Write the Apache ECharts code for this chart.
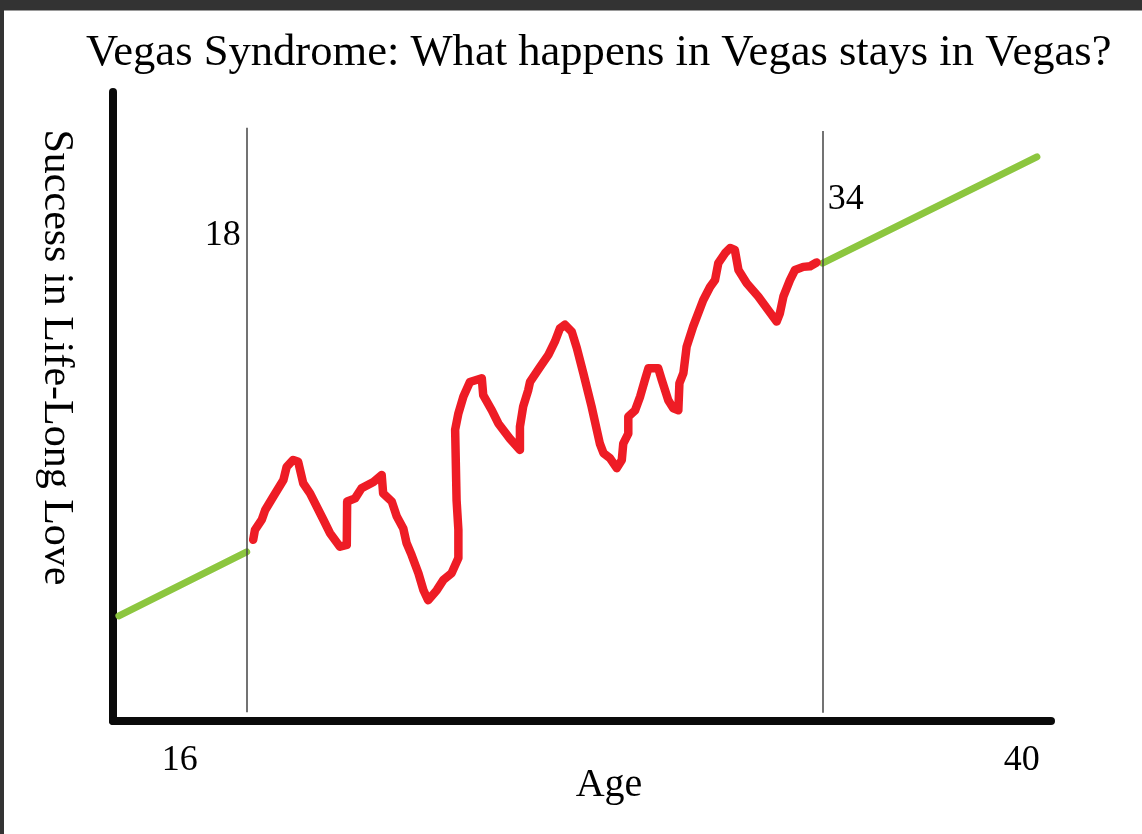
<!DOCTYPE html>
<html>
<head>
<meta charset="utf-8">
<script src="https://cdn.jsdelivr.net/npm/echarts@6/dist/echarts.min.js"></script>
<style>
  html, body { margin: 0; padding: 0; background: #ffffff; }
  #chart { position: absolute; left: 0; top: 0; width: 1142px; height: 834px; }
  #frameTop { position: absolute; left: 0; top: 0; width: 1142px; height: 10px; background: #333333; border-bottom: 1px solid #9a9a9a; }
  #frameLeft { position: absolute; left: 0; top: 0; width: 4px; height: 834px; background: #333333; }
</style>
</head>
<body>
<div id="chart"></div>
<div id="frameTop"></div>
<div id="frameLeft"></div>
<script>
// ---- data ----
const titleText = 'Vegas Syndrome: What happens in Vegas stays in Vegas?';
const xName = 'Age';
const yName = 'Success in Life-Long Love';
const xTickValues = [16, 40];
const markerAges = [18, 34];
const markerLabels = ['18', '34'];
const markerLabelLevels = [77.2, 82.9];
const markerTop = [94.3, 93.8];
const markerBottom = [1.4, 1.3];

const greenAgeBefore = [14.45, 18.0];
const greenValBefore = [16.7, 26.9];
const greenAgeAfter = [34.0, 39.95];
const greenValAfter = [72.8, 89.7];

const redAge = [18.18,18.23,18.42,18.51,18.74,19.02,19.11,19.29,19.43,19.57,
  19.76,20.13,20.31,20.59,20.78,20.79,21.01,21.19,21.52,21.75,
  21.79,22.03,22.17,22.35,22.44,22.58,22.77,22.91,23.04,23.28,
  23.46,23.69,23.88,23.88,23.83,23.79,23.88,24.02,24.20,24.53,
  24.57,24.81,24.99,25.31,25.59,25.59,25.68,25.82,25.87,26.15,
  26.38,26.56,26.70,26.84,27.03,27.17,27.35,27.58,27.81,27.91,
  28.09,28.28,28.42,28.46,28.60,28.60,28.79,28.93,29.06,29.16,
  29.43,29.53,29.71,29.85,29.99,30.02,30.13,30.22,30.40,30.68,
  30.87,31.01,31.10,31.29,31.43,31.56,31.66,31.89,32.21,32.49,
  32.72,32.81,32.91,33.09,33.23,33.46,33.65,33.83];
const redVal = [28.8,30.4,32.0,33.5,35.7,38.3,40.4,41.5,41.2,37.8,
  36.2,32.0,29.9,27.7,28.0,34.9,35.4,37.0,38.0,39.1,
  36.2,34.9,32.5,30.6,28.3,26.4,23.5,20.8,19.2,20.8,
  22.4,23.5,25.9,30.4,35.1,46.3,48.9,51.6,53.9,54.5,
  51.8,49.4,47.3,44.9,43.1,46.8,50.0,52.6,53.9,56.3,
  58.2,60.3,62.4,63.0,61.9,59.3,55.3,50.0,44.1,42.6,
  41.8,40.2,41.5,44.1,45.7,48.4,49.4,51.6,54.2,56.1,
  56.1,54.2,51.0,49.7,49.4,53.7,55.3,59.5,62.7,66.9,
  69.0,70.1,72.8,74.4,75.2,74.9,71.7,69.6,67.5,65.3,
  63.5,64.8,67.5,70.1,71.7,72.2,72.3,72.9];

// ---- build ----
const zip = (a, b) => a.map((v, i) => [v, b[i]]);
const serif = '"Liberation Serif", "DejaVu Serif", serif';

const chart = echarts.init(document.getElementById('chart'), null, { renderer: 'canvas' });
const option = {
  animation: false,
  backgroundColor: 'transparent',
  title: {
    text: titleText,
    left: 86,
    top: 31,
    padding: 0,
    textStyle: { fontFamily: serif, fontSize: 44.6, fontWeight: 'normal', color: '#000' }
  },
  grid: { left: 113, right: 91, top: 92, bottom: 113, containLabel: false },
  xAxis: {
    type: 'value',
    min: 14.286,
    max: 40.342,
    name: xName,
    nameLocation: 'middle',
    nameGap: 44,
    nameMoveOverlap: false,
    nameTextStyle: { fontFamily: serif, fontSize: 40, color: '#000', padding: [0, 0, 0, 54] },
    axisLine: { onZero: false, lineStyle: { color: '#0a0a0a', width: 8, cap: 'round' } },
    axisTick: { show: false },
    splitLine: { show: false },
    axisLabel: {
      customValues: xTickValues,
      margin: 22,
      fontFamily: serif,
      fontSize: 36,
      color: '#000',
      formatter: function (v) {
        return v === xTickValues[0] ? '{l|' + v + '}' : '{r|' + v + '}';
      },
      rich: {
        l: { fontFamily: serif, fontSize: 36, color: '#000', padding: [0, 0, 0, 10] },
        r: { fontFamily: serif, fontSize: 36, color: '#000', padding: [0, 34, 0, 0] }
      }
    }
  },
  yAxis: {
    type: 'value',
    min: 0,
    max: 100,
    name: yName,
    nameLocation: 'middle',
    nameRotate: -90,
    nameGap: 36,
    nameMoveOverlap: false,
    nameTextStyle: { fontFamily: serif, fontSize: 42, color: '#000', padding: [0, 98, 0, 0] },
    axisLine: { onZero: false, lineStyle: { color: '#0a0a0a', width: 8, cap: 'round' } },
    axisTick: { show: false },
    axisLabel: { show: false },
    splitLine: { show: false }
  },
  series: [
    {
      type: 'line',
      data: zip(greenAgeBefore, greenValBefore),
      showSymbol: false,
      symbol: 'none',
      lineStyle: { color: '#8cc63f', width: 7, cap: 'round' },
      z: 3
    },
    {
      type: 'line',
      data: zip(greenAgeAfter, greenValAfter),
      showSymbol: false,
      symbol: 'none',
      lineStyle: { color: '#8cc63f', width: 7, cap: 'round' },
      z: 3
    },
    {
      type: 'line',
      data: zip(redAge, redVal),
      showSymbol: false,
      symbol: 'none',
      lineStyle: { color: '#ee1c25', width: 8.5, cap: 'round', join: 'round' },
      z: 4,
      markLine: {
        silent: true,
        symbol: 'none',
        label: { show: false },
        lineStyle: { color: '#444', width: 1.5, type: 'solid', opacity: 1 },
        data: markerAges.map((a, i) => [{ coord: [a, markerTop[i]] }, { coord: [a, markerBottom[i]] }])
      }
    },
    {
      type: 'scatter',
      symbolSize: 0,
      silent: true,
      itemStyle: { opacity: 1 },
      data: markerAges.map((a, i) => ({
        value: [a, markerLabelLevels[i]],
        label: {
          show: true,
          position: i === 0 ? 'left' : 'right',
          distance: i === 0 ? 6 : 5,
          formatter: markerLabels[i],
          fontFamily: serif,
          fontSize: 36,
          color: '#000',
          opacity: 1
        }
      })),
      z: 5
    }
  ]
};
chart.setOption(option);
</script>
</body>
</html>
